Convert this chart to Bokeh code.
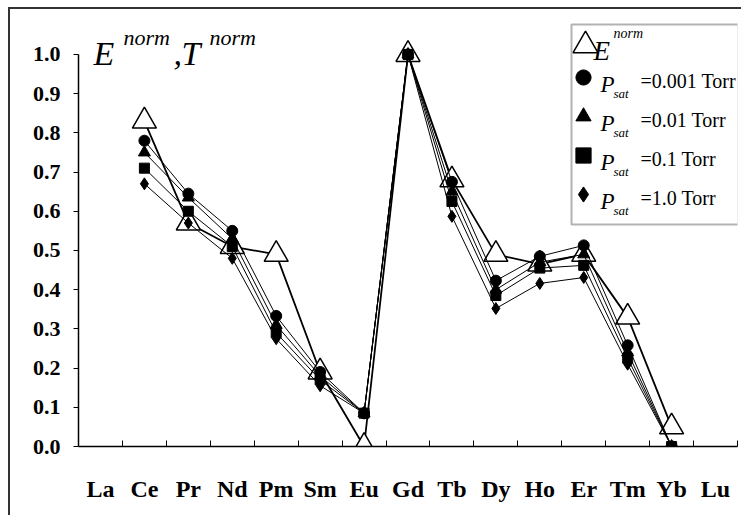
from bokeh.plotting import figure
from bokeh.models import (Range1d, FixedTicker, PrintfTickFormatter, Legend, LegendItem,
                          Label, BoxAnnotation, ColumnDataSource)
from bokeh.embed import file_html
from bokeh.resources import INLINE

NaN = float("nan")

# ---------------- data ----------------
elements = ["La", "Ce", "Pr", "Nd", "Pm", "Sm", "Eu", "Gd", "Tb", "Dy", "Ho", "Er", "Tm", "Yb", "Lu"]
e_norm = [NaN, 0.83, 0.57, 0.51, 0.49, 0.19, 0.00, 1.00, 0.68, 0.49, 0.465, 0.49, 0.33, 0.05, NaN]
t_p0001 = [NaN, 0.78, 0.645, 0.55, 0.333, 0.19, 0.085, 1.00, 0.675, 0.423, 0.485, 0.513, 0.258, 0.0, NaN]
t_p001 = [NaN, 0.75, 0.635, 0.53, 0.31, 0.18, 0.085, 1.00, 0.65, 0.40, 0.47, 0.49, 0.24, 0.0, NaN]
t_p01 = [NaN, 0.71, 0.60, 0.51, 0.29, 0.17, 0.085, 1.00, 0.625, 0.385, 0.455, 0.462, 0.225, 0.0, NaN]
t_p1 = [NaN, 0.67, 0.57, 0.48, 0.275, 0.155, 0.085, 1.00, 0.587, 0.352, 0.416, 0.431, 0.21, 0.0, NaN]
y_ticks = [0.0, 0.1, 0.2, 0.3, 0.4, 0.5, 0.6, 0.7, 0.8, 0.9, 1.0]
pressure_labels = ["=0.001 Torr", "=0.01 Torr", "=0.1 Torr", "=1.0 Torr"]

FONT = "Liberation Serif"
xs = list(range(1, len(elements) + 1))

p = figure(width=733, height=508, output_backend="svg", toolbar_location=None,
           x_range=Range1d(0.5, len(elements) + 0.5), y_range=Range1d(0, 1.107),
           min_border_left=68, min_border_right=6, min_border_top=3, min_border_bottom=71)
p.styles = {"border-left": "2px solid #333333", "border-top": "2px solid #333333",
            "margin-left": "8px", "margin-top": "7px"}
p.outline_line_color = None
p.grid.visible = False
p.background_fill_color = "white"
p.border_fill_color = "white"

# x axis: labels at category centres, small inward ticks at boundaries
xa = p.xaxis[0]
xa.ticker = FixedTicker(ticks=xs, minor_ticks=[x + 0.5 for x in xs])
xa.major_label_overrides = {x: e for x, e in zip(xs, elements)}
xa.major_tick_in = 0
xa.major_tick_out = 0
xa.minor_tick_in = 6
xa.minor_tick_out = 0
xa.minor_tick_line_color = "black"
xa.axis_line_color = "black"
xa.axis_line_width = 1.5
xa.major_label_text_font = FONT
xa.major_label_text_font_style = "bold"
xa.major_label_text_font_size = "24px"
xa.major_label_text_color = "black"
xa.major_label_standoff = 29

ya = p.yaxis[0]
ya.ticker = FixedTicker(ticks=y_ticks)
ya.formatter = PrintfTickFormatter(format="%.1f")
ya.bounds = (0, 1)
ya.major_tick_in = 0
ya.major_tick_out = 5
ya.major_tick_line_color = "black"
ya.minor_tick_line_color = None
ya.axis_line_color = "black"
ya.axis_line_width = 1.5
ya.major_label_text_font = FONT
ya.major_label_text_font_style = "bold"
ya.major_label_text_font_size = "22px"
ya.major_label_text_color = "black"
ya.major_label_standoff = 13

src = ColumnDataSource(dict(x=xs, e=e_norm, a=t_p0001, b=t_p001, c=t_p01, d=t_p1))

# E^norm series (drawn first, below the others)
p.line("x", "e", source=src, line_color="black", line_width=1.8)
r_e = p.scatter("x", "e", source=src, marker="triangle", size=24, fill_color="white",
                line_color="black", line_width=1.5)

for col in ["d", "a", "b", "c"]:
    p.line("x", col, source=src, line_color="black", line_width=1)
r_d = p.scatter("x", "d", source=src, marker="diamond", size=12, color="black")
r_a = p.scatter("x", "a", source=src, marker="circle", size=11, color="black")
r_b = p.scatter("x", "b", source=src, marker="triangle", size=12, color="black")
r_c = p.scatter("x", "c", source=src, marker="square", size=10, color="black")

# legend box
p.add_layout(BoxAnnotation(left=493, right=660, top=422, bottom=222,
                           left_units="screen", right_units="screen",
                           top_units="screen", bottom_units="screen",
                           fill_color="white", fill_alpha=1, line_color="black", line_width=2))

leg1 = Legend(items=[LegendItem(label=" ", renderers=[r_e])], location=(476, 370),
              glyph_width=62, glyph_height=62, padding=0, margin=0, spacing=0,
              label_standoff=0, border_line_alpha=0, background_fill_alpha=0)
leg2 = Legend(items=[LegendItem(label=" ", renderers=[r]) for r in [r_a, r_b, r_c, r_d]],
              location=(485, 233), glyph_width=40, glyph_height=38, padding=0, margin=0,
              spacing=1, label_standoff=0, border_line_alpha=0, background_fill_alpha=0)
p.add_layout(leg1)
p.add_layout(leg2)


def lab(text, x, y, size, style="normal"):
    p.add_layout(Label(x=x, y=y, x_units="screen", y_units="screen", text=text,
                       text_font=FONT, text_font_size=size, text_font_style=style,
                       text_color="black", text_baseline="alphabetic", text_align="left"))


# axis title E^norm , T^norm
lab("E", 15, 393, "34px", "italic")
lab("norm", 45, 409, "22px", "italic")
lab(",", 95, 393, "34px", "italic")
lab("T", 103, 393, "34px", "italic")
lab("norm", 131, 409, "22px", "italic")

# legend texts
lab("E", 515, 396, "27px", "italic")
lab("norm", 535, 413, "14px", "italic")
for i, txt in enumerate(pressure_labels):
    centre = 446 - (77 + 39 * i)
    lab("P", 522, centre - 6.5, "23px", "italic")
    lab("sat", 535, centre - 16, "13px", "italic")
    lab(txt, 562, centre - 3.5, "20px")

open("out.html", "w").write(file_html(p, INLINE))
